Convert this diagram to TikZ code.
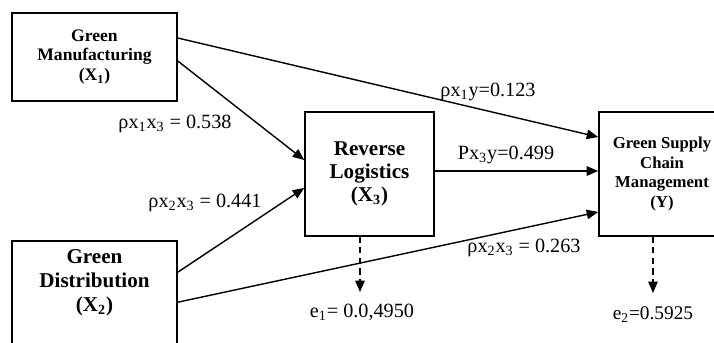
\documentclass[tikz,border=0pt]{standalone}
\usepackage{fontspec}
\setmainfont{Liberation Serif}
\usetikzlibrary{arrows.meta}

\tikzset{
    box/.style={draw, line width=0.9pt, align=center, inner sep=0pt},
    path/.style={line width=0.8pt, -{Triangle[length=2.3mm, width=1.9mm]}},
    err/.style={path, dash pattern=on 3.5pt off 2.5pt},
    coef/.style={font=\fontsize{11.5}{13}\selectfont, inner sep=1pt}
}

\begin{document}
\begin{tikzpicture}[x=0.02cm, y=-0.02cm]
    \clip (0,0) rectangle (714,342);

    % The four variables
    \node[box, minimum width=3.3cm, minimum height=1.76cm, font=\bfseries\fontsize{10}{11.3}\selectfont] (gm) at (94.5,57) {Green\\Manufacturing\\(X\textsubscript{1})};
    \node[box, minimum width=3.3cm, minimum height=2.4cm] (gd) at (94.5,301) {};
    \node[align=center, font=\bfseries\fontsize{12}{13.6}\selectfont] (gdtext) at (94.5,283) {Green\\Distribution\\(X\textsubscript{2})};
    \node[box, minimum width=2.58cm, minimum height=2.48cm, font=\bfseries\fontsize{12}{13}\selectfont] (rl) at (369.5,174) {Reverse\\Logistics\\(X\textsubscript{3})};
    \node[box, minimum width=2.52cm, minimum height=2.48cm, font=\bfseries\fontsize{9.5}{11.3}\selectfont] (gs) at (662,174) {Green Supply\\Chain\\Management\\(Y)};

    % Paths
    \draw[path] ([yshift=0.38cm]gm.east) -- ([yshift=0.74cm]gs.west);
    \draw[path] ([yshift=-0.08cm]gm.east) -- ([yshift=0.28cm]rl.west);
    \draw[path] ([yshift=-0.64cm]gd.north east) -- ([yshift=-0.28cm]rl.west);
    \draw[path] ([yshift=-1.24cm]gd.north east) -- ([yshift=-0.76cm]gs.west);
    \draw[path] ([yshift=0.06cm]rl.east) -- ([yshift=0.06cm]gs.west);

    % Path coefficients
    \node[coef] (r13) at (175,124) {ρx\textsubscript{1}x\textsubscript{3} = 0.538};
    \node[coef] (r23) at (205,203) {ρx\textsubscript{2}x\textsubscript{3} = 0.441};
    \node[coef] (r1y) at (488,92) {ρx\textsubscript{1}y=0.123};
    \node[coef] (p3y) at (506,155) {Px\textsubscript{3}y=0.499};
    \node[coef] (r2y) at (524,248) {ρx\textsubscript{2}x\textsubscript{3} = 0.263};

    % Error terms
    \coordinate (e1tip) at (360,292);
    \coordinate (e2tip) at (653,293);
    \draw[err] (rl.south -| e1tip) -- (e1tip);
    \draw[err] (gs.south -| e2tip) -- (e2tip);
    \node[coef] (e1) at (362,312) {e\textsubscript{1}= 0.0,4950};
    \node[coef, font=\fontsize{11}{12}\selectfont] (e2) at (653,315) {e\textsubscript{2}=0.5925};
\end{tikzpicture}
\end{document}
